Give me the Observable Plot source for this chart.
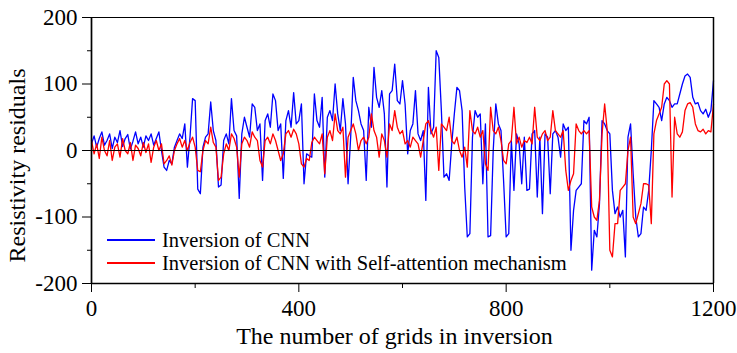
<!DOCTYPE html>
<html><head><meta charset="utf-8">
<script src="https://cdn.jsdelivr.net/npm/d3@7"></script>
<script src="https://cdn.jsdelivr.net/npm/@observablehq/plot@0.6"></script>
<style>body{margin:0;background:#fff}#chart svg{display:block}</style>
</head><body><div id="chart"></div>
<script>
// Sampling step of the grid index (every 5th grid)
const gridStep = 5;

// Inversion of CNN (blue)
const cnn = [
  10, 22, 5, 18, 28, 8, 15, 25, 3, 20,
  12, 30, 6, 18, 24, 2, 14, 28, 10, 20,
  5, 22, 15, 25, 8, 18, 28, 0, -25, -30,
  -15, -20, 5, 15, 25, 18, 40, -25, 20, 78,
  75, -58, -65, 5, 20, 25, 73, 30, 15, -55,
  -52, 15, 25, 10, 78, 30, 22, -72, 25, 50,
  35, 20, 70, 65, 30, 40, -45, 45, 55, 35,
  85, 75, 30, 40, -42, 45, 60, 35, 87, 40,
  45, 70, -50, -5, -8, -10, 85, 45, 35, 80,
  -40, 50, 60, 45, 100, 55, 30, 78, 40, -50,
  20, 110, 75, 60, 40, 30, -45, 65, 35, 125,
  80, 65, 90, 55, -55, 85, 90, 130, 75, 70,
  105, 70, -5, 30, 40, 90, 25, 15, 30, -75,
  95, 25, 35, 150, 140, 60, -40, -35, -45, 10,
  55, 95, 90, 60, -55, -130, -125, 20, 60, 50,
  55, -50, 40, -130, -128, 0, 70, 40, 30, -45,
  -130, -125, 15, -60, 25, 10, -50, 20, -60, -58,
  25, 30, -70, 20, -95, 25, 20, -65, 25, 30,
  20, -10, 40, 30, 35, -150, -90, -60, -55, -50,
  45, 40, 50, -180, -120, -130, -80, 45, 40, 30,
  25, -60, -95, -85, -100, -90, -160, 20, 40, -35,
  -100, -130, -125, -85, -90, -60, 0, 75, 70, 65,
  45, 70, 80, 75, 65, 70, 70, 85, 100, 112,
  115, 110, 80, 70, 72, 60, 55, 62, 50, 60,
  105
];

// Inversion of CNN with Self-attention mechanism (red)
const cnnSA = [
  15, -5, 10, -12, 20, 0, -8, 15, -15, 5,
  10, -10, 18, 0, -5, 12, -15, 8, 3, -8,
  12, -3, 10, -18, 5, 15, 0, 10, -20, -15,
  -8, -22, 0, 10, 18, 5, 15, 0, 12, 20,
  5, -30, -32, 0, 15, 10, 35, 12, 5, -45,
  -40, -5, 10, 0, 25, 18, 5, -40, 10, 20,
  15, 5, 28, 20, 15, -15, -25, 15, 20, 10,
  25, 15, 0, -15, -5, 25, 30, 20, 32, 25,
  10, -20, -25, -12, -15, 12, 20, 15, 10, 25,
  -35, 20, 30, 15, 55, 30, 25, 35, -40, 20,
  30, 40, 25, 0, 15, 20, 10, 20, 55, 30,
  20, -10, 25, 15, -10, 40, 30, 60, 35, 25,
  30, 10, 15, 5, 20, 15, 10, -10, 15, 40,
  45, 30, 20, 35, -30, 40, 35, 30, 50, 15,
  10, 20, 0, -10, 5, -25, 60, 30, 25, 35,
  20, 30, -20, -30, 65, 30, 25, 35, 15, -15,
  -20, 10, 15, 65, 10, 20, 5, 15, 12, 20,
  10, 65, 20, 15, 25, 30, 15, 20, 60, 30,
  25, 20, 30, -30, -60, -45, -35, 40, 30, 25,
  30, 25, 30, -85, -100, -105, -75, 25, 70, 30,
  -150, -160, -110, -110, -60, -55, -50, 0, 20, -100,
  -110, -95, -80, -50, -50, -52, -110, 25, 45, 55,
  65, 100, 105, 100, -70, 50, 25, 20, 28, 60,
  70, 72, 65, 40, 30, 28, 32, 25, 30, 28,
  70
];

const seriesNames = ["Inversion of CNN", "Inversion of CNN with Self-attention mechanism"];
const seriesColors = ["#0000ff", "#ff0000"];
const xTicks = [0, 400, 800, 1200];
const xMinorTicks = [200, 600, 1000];
const yTicks = [-200, -100, 0, 100, 200];
const yMinorTicks = [-150, -50, 50, 150];
const xLabel = "The number of grids in inversion";
const yLabel = "Resistivity residuals";

const rows = [];
[cnn, cnnSA].forEach((vals, s) => vals.forEach((v, i) => rows.push({grid: i * gridStep, value: v, series: seriesNames[s]})));

const W = 737, H = 353, mL = 91, mR = 24, mT = 17, mB = 70;
const font = "'Liberation Serif','Times New Roman',serif";

const chart = Plot.plot({
  width: W, height: H,
  marginLeft: mL, marginRight: mR, marginTop: mT, marginBottom: mB,
  style: {fontFamily: font, background: "#fff", color: "#000", overflow: "visible"},
  x: {domain: [0, 1200]},
  y: {domain: [-200, 200]},
  color: {domain: seriesNames, range: seriesColors},
  marks: [
    Plot.line(rows, {x: "grid", y: "value", z: "series", stroke: "series", strokeWidth: 1.3}),
    Plot.ruleY([0], {stroke: "#000", strokeWidth: 1}),
    Plot.frame({stroke: "#000", strokeWidth: 1}),
    Plot.ruleX([0], {stroke: "#000", strokeWidth: 1.7}),
    Plot.ruleX([1200], {stroke: "#000", strokeWidth: 1.5}),
    Plot.ruleY([-200], {stroke: "#000", strokeWidth: 1.5}),
    Plot.axisX(xTicks, {tickSize: 9, tickPadding: 7, fontSize: 23, label: null, tickFormat: d => String(d)}),
    Plot.axisX(xMinorTicks, {tickSize: 5, tickFormat: () => "", label: null}),
    Plot.axisY(yTicks, {tickSize: 9, tickPadding: 5, fontSize: 23, label: null, tickFormat: d => String(d)}),
    Plot.axisY(yMinorTicks, {tickSize: 4, tickFormat: () => "", label: null}),
    Plot.text([xLabel], {frameAnchor: "bottom", lineAnchor: "middle", textAnchor: "middle", dx: -8, dy: 53, fontSize: 24, fill: "#000"}),
    Plot.text([yLabel], {frameAnchor: "left", lineAnchor: "middle", textAnchor: "middle", dx: -74, dy: 15, rotate: -90, fontSize: 24, fill: "#000"})
  ]
});

// Legend inside the plot frame (lower-left corner)
const svg = d3.select(chart);
const lg = svg.append("g").attr("font-family", font).attr("font-size", 20.5).attr("text-anchor", "start");
seriesNames.forEach((name, i) => {
  const y = H - mB - 43 + i * 23;
  lg.append("line").attr("x1", mL + 16).attr("x2", mL + 64).attr("y1", y).attr("y2", y)
    .attr("stroke", seriesColors[i]).attr("stroke-width", 1.8);
  lg.append("text").attr("x", mL + 71).attr("y", y).attr("dy", "0.32em").attr("fill", "#000").text(name);
});

document.getElementById("chart").append(chart);
</script>
</body></html>
